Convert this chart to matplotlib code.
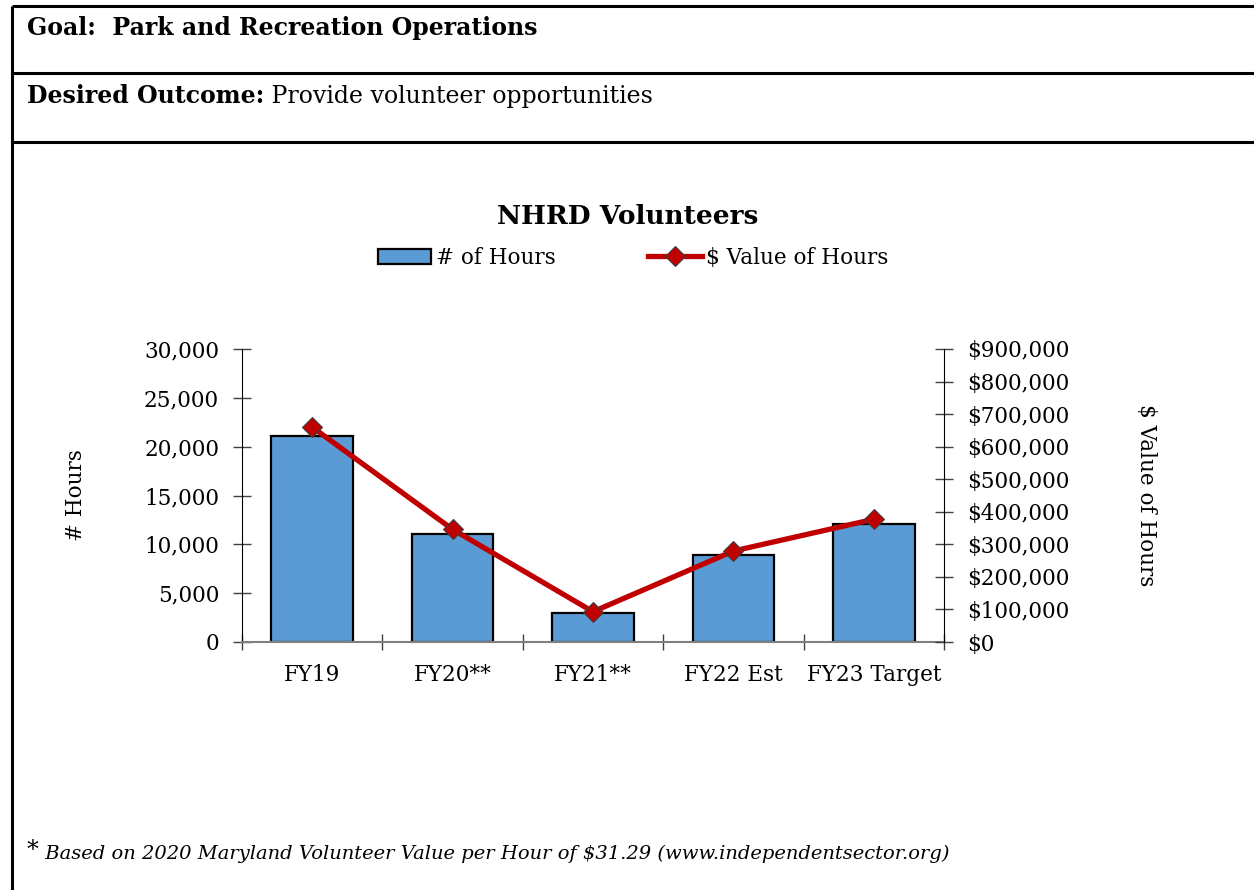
import matplotlib
matplotlib.use("Agg")
import matplotlib.pyplot as plt
from matplotlib.lines import Line2D
from matplotlib.patches import Patch
from matplotlib.ticker import FuncFormatter, MultipleLocator, FixedLocator
import numpy as np

plt.rcParams['font.family'] = ['DejaVu Serif']

years = ["FY19", "FY20**", "FY21**", "FY22 Est", "FY23 Target"]
hours = [21100, 11050, 2975, 8930, 12040]
dollar_value = [660000, 346000, 93000, 279500, 377000]

W, H = 1254, 890
fig = plt.figure(figsize=(W / 100, H / 100), dpi=100)


def fx(px):
    return px / W


def fy(py):
    return 1 - py / H


# table rules around the header cells
rule = dict(color="black", lw=2.2, solid_capstyle="butt")
for yy in (6, 73, 142):
    fig.add_artist(Line2D([fx(12), 1], [fy(yy), fy(yy)], **rule))
fig.add_artist(Line2D([fx(12), fx(12)], [fy(6), 0], **rule))

fig.text(fx(27), fy(28), "Goal:  Park and Recreation Operations",
         fontsize=17, fontweight="bold", va="center", ha="left")
t1 = fig.text(fx(27), fy(96), "Desired Outcome:", fontsize=17,
              fontweight="bold", va="center", ha="left")
fig.add_artist(plt.Annotation(" Provide volunteer opportunities", xy=(1, 0),
                              xycoords=t1, va="bottom", ha="left", fontsize=17))

# chart
ax = fig.add_axes([fx(242), fy(642), fx(944) - fx(242), fy(349) - fy(642)])
x = np.arange(len(years))
ax.bar(x, hours, width=0.58, color="#5B9BD5", edgecolor="black", lw=1.6,
       zorder=2)
ax.set_xlim(-0.5, len(years) - 0.5)
ax.set_ylim(0, 30000)
ax.yaxis.set_major_locator(MultipleLocator(5000))
ax.yaxis.set_major_formatter(FuncFormatter(lambda v, p: f"{v:,.0f}"))
ax.set_xticks(x)
ax.set_xticklabels(years)
ax.xaxis.set_minor_locator(FixedLocator(np.arange(-0.5, len(years), 1.0)))
ax.tick_params(axis="x", which="major", length=0, pad=16, labelsize=15.5)
ax.tick_params(axis="x", which="minor", direction="inout", length=12,
               color="#404040", width=1)
ax.tick_params(axis="y", direction="inout", length=13, color="#404040",
               width=1, labelsize=15.5, pad=10)
ax.spines["top"].set_visible(False)
ax.spines["right"].set_visible(False)
ax.spines["left"].set_color("black")
ax.spines["bottom"].set_color("#7f7f7f")
ax.spines["bottom"].set_linewidth(1.5)
ax.set_ylabel("# Hours", fontsize=15.5, labelpad=41)

ax2 = ax.twinx()
ax2.plot(x, dollar_value, color="#C00000", lw=3.8, marker="D",
         markersize=10, markerfacecolor="#C00000", markeredgecolor="#404040",
         markeredgewidth=0.8, zorder=3)
ax2.set_ylim(0, 900000)
ax2.yaxis.set_major_locator(MultipleLocator(100000))
ax2.yaxis.set_major_formatter(FuncFormatter(lambda v, p: f"${v:,.0f}"))
ax2.tick_params(axis="y", direction="inout", length=13, color="#404040",
                width=1, labelsize=15.5, pad=10)
for s in ("top", "left", "bottom"):
    ax2.spines[s].set_visible(False)
ax2.spines["right"].set_color("black")
ax2.set_ylabel("$ Value of Hours", fontsize=15.5, rotation=270,
               labelpad=63)

fig.text(fx(628), fy(216), "NHRD Volunteers", fontsize=19,
         fontweight="bold", ha="center", va="center")

handles = [
    Patch(facecolor="#5B9BD5", edgecolor="black", lw=1.6),
    Line2D([], [], color="#C00000", lw=3.8, marker="D", markersize=10,
           markerfacecolor="#C00000", markeredgecolor="#404040",
           markeredgewidth=0.8),
]
fig.legend(handles, ["# of Hours", "$ Value of Hours"], ncol=2,
           loc="center", bbox_to_anchor=(fx(633), fy(258)), frameon=False,
           fontsize=15.5, handlelength=2.5, handletextpad=0.2,
           columnspacing=4.3)

t2 = fig.text(fx(27), fy(850), "*", fontsize=17, ha="left", va="center")
fig.add_artist(plt.Annotation(
    " Based on 2020 Maryland Volunteer Value per Hour of $31.29 "
    "(www.independentsector.org)", xy=(1, 0.35), xycoords=t2,
    va="center", ha="left", fontsize=14, fontstyle="italic"))

fig.savefig("out.png", dpi=100)
